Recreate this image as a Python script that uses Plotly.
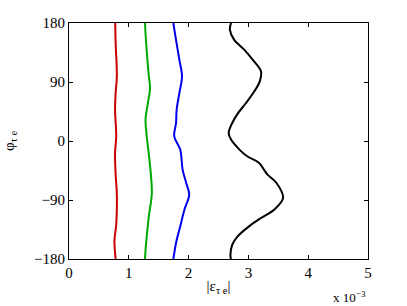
import plotly.graph_objects as go

# phi (deg) and |eps| (x1e-3) for each curve
red_phi = [180, 149.5, 98.6, 73, 47.6, 7, -18, -51, -81.8, -127, -152, -180]
red_eps = [0.773, 0.78, 0.80, 0.78, 0.77, 0.79, 0.77, 0.78, 0.80, 0.79, 0.76, 0.78]

green_phi = [180, 149.5, 98.6, 81, 58, 32.6, 7.2, -28.4, -79.2, -115, -155.5, -180]
green_eps = [1.27, 1.29, 1.335, 1.355, 1.32, 1.28, 1.30, 1.345, 1.385, 1.335, 1.29, 1.27]

blue_phi = [180, 159.6, 124, 98.6, 73, 47.6, 27.5, 7.2, -13.1, -43.6, -64, -81.8, -104.8, -130, -155.5, -180]
blue_eps = [1.745, 1.78, 1.845, 1.89, 1.845, 1.80, 1.79, 1.76, 1.86, 1.90, 1.96, 2.01, 1.93, 1.86, 1.79, 1.745]

black_phi = [180, 169.8, 154.6, 139.3, 124, 106.3, 91, 75.8, 58, 42.8, 27.5, 12.3, 2.1, -13.1, -23.3,
             -33.5, -43.7, -51.3, -64, -86.9, -104.8, -117.5, -130.2, -145.5, -158.2, -176, -180]
black_eps = [2.71, 2.69, 2.76, 2.93, 3.07, 3.21, 3.19, 3.10, 2.96, 2.83, 2.73, 2.67, 2.71, 2.85, 2.98,
             3.18, 3.26, 3.32, 3.47, 3.58, 3.43, 3.21, 3.01, 2.82, 2.73, 2.70, 2.71]

x_ticks = [0, 1, 2, 3, 4, 5]
y_ticks = [-180, -90, 0, 90, 180]

series = [
    (red_eps, red_phi, "#cc0000"),
    (green_eps, green_phi, "#00aa00"),
    (blue_eps, blue_phi, "#0000ee"),
    (black_eps, black_phi, "#000000"),
]

fig = go.Figure()
for xs, ys, c in series:
    fig.add_trace(go.Scatter(x=xs, y=ys, mode="lines",
                             line=dict(color=c, width=2, shape="spline", smoothing=1.0),
                             showlegend=False, hoverinfo="skip"))

SERIF = "Liberation Serif, DejaVu Serif, serif"
font = dict(family=SERIF, size=15, color="black")
axis_common = dict(showgrid=False, zeroline=False, showline=True, linecolor="black", linewidth=1,
                   mirror="ticks", ticks="inside", ticklen=4, tickcolor="black", tickfont=font,
                   automargin=False)

fig.update_layout(
    width=407, height=306,
    margin=dict(l=69, r=39, t=23, b=47),
    paper_bgcolor="white", plot_bgcolor="white",
    font=font,
    xaxis=dict(range=[0, 5], tickvals=x_ticks, ticktext=[str(v) for v in x_ticks],
               title=dict(text="|ε<sub>τ e</sub>|", font=font, standoff=0), **axis_common),
    yaxis=dict(range=[-180, 180], tickvals=y_ticks,
               ticktext=[("−" + str(-v)) if v < 0 else str(v) for v in y_ticks],
               title=dict(text="φ<sub>τ e</sub>", font=font, standoff=15), **axis_common),
    annotations=[dict(text="x 10<sup>−3</sup>", xref="paper", yref="paper", x=1.0, y=-0.12,
                      xanchor="right", yanchor="top", showarrow=False,
                      font=dict(family=SERIF, size=13, color="black"))],
)

fig.write_html("out.html", config={"displayModeBar": False},
               post_script="document.body.style.margin='0';document.body.style.padding='0';")
